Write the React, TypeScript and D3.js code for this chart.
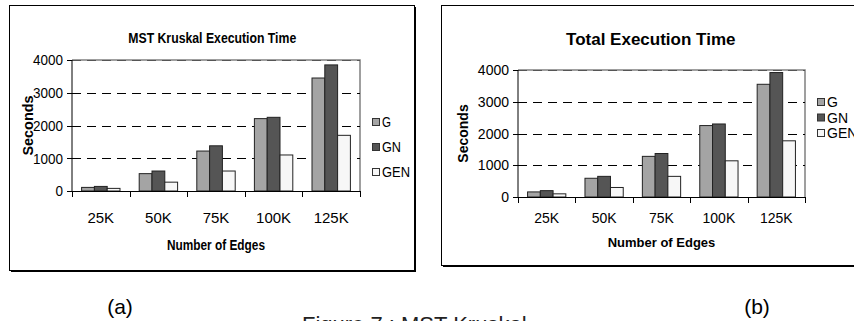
import * as d3 from 'd3';

const categories = ['25K', '50K', '75K', '100K', '125K'];
const seriesNames = ['G', 'GN', 'GEN'];
const yTicks = [0, 1000, 2000, 3000, 4000];

// (a) MST Kruskal execution time, seconds
const kruskalG = [110, 530, 1220, 2210, 3450];
const kruskalGN = [140, 610, 1380, 2250, 3850];
const kruskalGEN = [80, 270, 610, 1100, 1700];

// (b) total execution time, seconds
const totalG = [160, 590, 1280, 2250, 3550];
const totalGN = [200, 650, 1370, 2300, 3920];
const totalGEN = [100, 300, 650, 1140, 1770];

const fills = ['#a4a4a4', '#555555', '#f7f7f7'];
const font = '"Liberation Sans", Arial, sans-serif';

type PanelProps = {
  title: string;
  values: number[][];
  box: { x: number; y: number; w: number; h: number };
  plot: { x0: number; x1: number; y0: number; y1: number };
  titleY: number;
  titleSize: number;
  titleLen?: number;
  ySize: number;
  yTickLen?: number;
  yLabelX: number;
  yLabelSize: number;
  yLabelLen?: number;
  xLabelY: number;
  xLabelSize: number;
  xLabelLen?: number;
  tickSize: number;
  legendX: number;
  legendRows: number[];
  legendSize: number;
  legendLens?: number[];
};

const Panel = (p: PanelProps) => {
  const x = d3.scaleBand().domain(categories).range([p.plot.x0, p.plot.x1])
    .paddingInner(1.5 / 4.5).paddingOuter(0.75 / 4.5);
  const xs = d3.scaleBand().domain(seriesNames).range([0, x.bandwidth()]);
  const y = d3.scaleLinear().domain([0, 4000]).range([p.plot.y1, p.plot.y0]);
  const step = (p.plot.x1 - p.plot.x0) / categories.length;
  const bounds = d3.range(categories.length + 1).map(i => p.plot.x0 + i * step);
  const midX = (p.plot.x0 + p.plot.x1) / 2;
  const midY = (p.plot.y0 + p.plot.y1) / 2;
  const titleX = (p.box.x + p.plot.x1 + 55) / 2;

  return (
    <g fontFamily={font}>
      {/* framed panel with shadow on right/bottom */}
      <rect x={p.box.x + 1.5} y={p.box.y + 1.5} width={p.box.w} height={p.box.h} fill="#000" />
      <rect x={p.box.x} y={p.box.y} width={p.box.w} height={p.box.h} fill="#fff" stroke="#000" strokeWidth={1} />

      <text x={titleX} y={p.titleY} textAnchor="middle" fontWeight="bold" fontSize={p.titleSize}
        textLength={p.titleLen} lengthAdjust="spacingAndGlyphs">{p.title}</text>

      {/* plot area border (top/right) */}
      <path d={`M${p.plot.x0},${p.plot.y0}H${p.plot.x1}V${p.plot.y1}`} fill="none" stroke="#808080" strokeWidth={1.5} />

      {/* gridlines */}
      {yTicks.filter(t => t > 0).map(t => (
        <line key={t} x1={p.plot.x0} x2={p.plot.x1} y1={Math.round(y(t)) + 0.5} y2={Math.round(y(t)) + 0.5}
          stroke={t === 4000 ? '#555' : '#000'} strokeDasharray="9,6" />
      ))}

      {/* bars */}
      {categories.map((c, i) => seriesNames.map((s, j) => {
        const v = p.values[j][i];
        return (
          <rect key={c + s} x={(x(c) ?? 0) + (xs(s) ?? 0)} y={y(v)} width={xs.bandwidth()}
            height={y(0) - y(v)} fill={fills[j]} stroke="#222" strokeWidth={1} />
        );
      }))}

      {/* axes */}
      <line x1={p.plot.x0} x2={p.plot.x0} y1={p.plot.y0} y2={p.plot.y1} stroke="#000" />
      <line x1={p.plot.x0} x2={p.plot.x1} y1={p.plot.y1 + 0.5} y2={p.plot.y1 + 0.5} stroke="#000" />
      {yTicks.map(t => (
        <g key={t}>
          <line x1={p.plot.x0 - 5} x2={p.plot.x0} y1={Math.round(y(t)) + 0.5} y2={Math.round(y(t)) + 0.5} stroke="#000" />
          <text x={p.plot.x0 - 9} y={y(t) + p.ySize * 0.36} textAnchor="end" fontSize={p.ySize}
            textLength={p.yTickLen ? p.yTickLen * String(t).length / 4 : undefined}
            lengthAdjust="spacingAndGlyphs">{t}</text>
        </g>
      ))}
      {bounds.map((b, i) => (
        <line key={i} x1={Math.round(b) + 0.5} x2={Math.round(b) + 0.5} y1={p.plot.y1} y2={p.plot.y1 + 6} stroke="#000" />
      ))}
      {categories.map(c => (
        <text key={c} x={(x(c) ?? 0) + x.bandwidth() / 2} y={223} textAnchor="middle" fontSize={p.tickSize}>{c}</text>
      ))}

      <text transform={`translate(${p.yLabelX},${midY}) rotate(-90)`} textAnchor="middle" fontWeight="bold"
        fontSize={p.yLabelSize} textLength={p.yLabelLen} lengthAdjust="spacingAndGlyphs">Seconds</text>
      <text x={midX} y={p.xLabelY} textAnchor="middle" fontWeight="bold" fontSize={p.xLabelSize}
        textLength={p.xLabelLen} lengthAdjust="spacingAndGlyphs">Number of Edges</text>

      {/* legend */}
      {seriesNames.map((s, j) => (
        <g key={s}>
          <rect x={p.legendX + 0.5} y={p.legendRows[j] - 3.5} width={7} height={7} fill={fills[j]} stroke="#333" />
          <text x={p.legendX + 10} y={p.legendRows[j] + p.legendSize * 0.36} fontSize={p.legendSize}
            textLength={p.legendLens ? p.legendLens[j] : undefined} lengthAdjust="spacingAndGlyphs">{s}</text>
        </g>
      ))}
    </g>
  );
};

export default function App() {
  return (
    <svg width={854} height={321} style={{ position: 'absolute', left: 0, top: 0, background: '#fff' }}>
      <Panel
        title="MST Kruskal Execution Time"
        values={[kruskalG, kruskalGN, kruskalGEN]}
        box={{ x: 9.5, y: 5.5, w: 405, h: 265 }}
        plot={{ x0: 72, x1: 360, y0: 60, y1: 191 }}
        titleY={42.5} titleSize={15} titleLen={168}
        ySize={15} yTickLen={30} yLabelX={32.5} yLabelSize={15} yLabelLen={60}
        xLabelY={250} xLabelSize={14} xLabelLen={98}
        tickSize={15}
        legendX={372} legendRows={[122, 147, 172]} legendSize={15} legendLens={[9, 19, 28]}
      />
      <Panel
        title="Total Execution Time"
        values={[totalG, totalGN, totalGEN]}
        box={{ x: 441.5, y: 5.5, w: 420, h: 260 }}
        plot={{ x0: 518, x1: 805, y0: 70, y1: 197 }}
        titleY={45} titleSize={17}
        ySize={14} yLabelX={468} yLabelSize={14}
        xLabelY={247} xLabelSize={13}
        tickSize={14}
        legendX={817} legendRows={[102, 117.5, 133]} legendSize={14}
      />
      <text x={120} y={314} textAnchor="middle" fontFamily={font} fontSize={21}>(a)</text>
      <text x={757} y={314} textAnchor="middle" fontFamily={font} fontSize={21}>(b)</text>
      <text x={302} y={332} fontFamily={font} fontSize={22} fill="#222">Figure 7 : MST Kruskal</text>
    </svg>
  );
}
